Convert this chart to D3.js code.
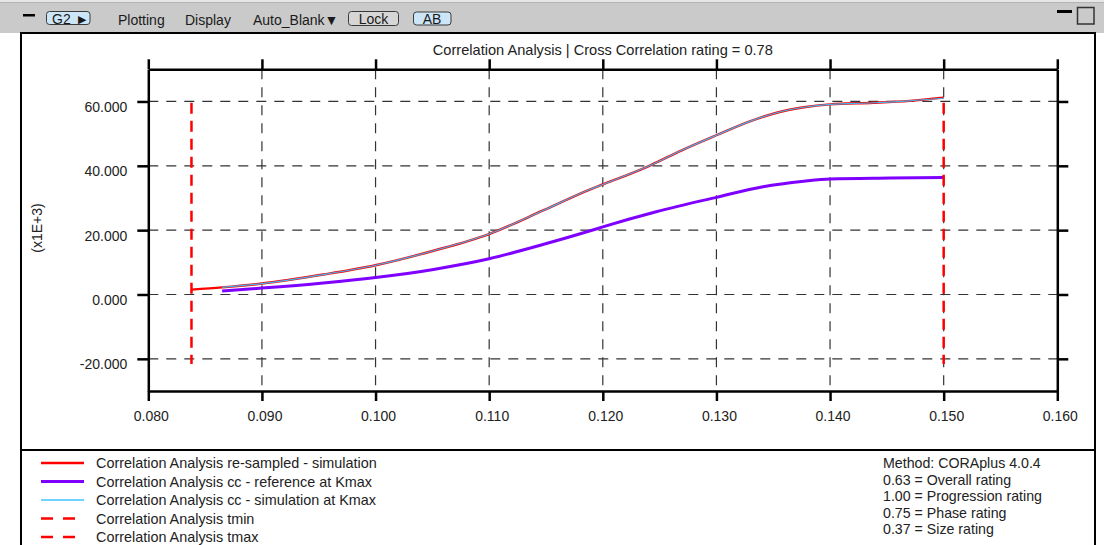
<!DOCTYPE html>
<html>
<head>
<meta charset="utf-8">
<script src="https://cdn.jsdelivr.net/npm/d3@7"></script>
<style>
  html, body { margin: 0; padding: 0; background: #ffffff; }
  svg { display: block; font-family: "Liberation Sans", Arial, sans-serif; }
</style>
</head>
<body>
<svg id="chart" width="1104" height="545"></svg>
<script>
// Time axis (s) and curve values (x1E+3)
const simTime = [0.0838, 0.0865, 0.0900, 0.0954, 0.1000, 0.1051, 0.1100, 0.1148, 0.1189, 0.1200,
                 0.1241, 0.1270, 0.1300, 0.1330, 0.1353, 0.1377, 0.1400, 0.1438, 0.1470, 0.1500];
const simResampled = [1.5, 2.2, 3.4, 6.2, 9.1, 13.6, 18.8, 26.2, 32.7, 34.2,
                      40.0, 44.9, 49.5, 53.9, 56.5, 58.2, 59.1, 59.6, 60.2, 61.2];
const ccSimTime = [0.0865, 0.0900, 0.0954, 0.1000, 0.1051, 0.1100, 0.1148, 0.1189, 0.1200,
                   0.1241, 0.1270, 0.1300, 0.1330, 0.1353, 0.1377, 0.1400, 0.1438, 0.1470, 0.1500];
const ccSimValues = [2.2, 3.4, 6.2, 9.1, 13.6, 18.8, 26.2, 32.7, 34.2,
                     40.0, 44.9, 49.5, 53.9, 56.5, 58.2, 59.1, 59.6, 60.2, 61.0];
const ccRefTime = [0.0865, 0.0900, 0.0954, 0.1000, 0.1051, 0.1100, 0.1148, 0.1189, 0.1200,
                   0.1247, 0.1300, 0.1341, 0.1377, 0.1400, 0.1453, 0.1500];
const ccRefValues = [1.1, 2.0, 3.6, 5.3, 7.8, 11.1, 15.6, 19.8, 21.0,
                     25.7, 30.2, 33.5, 35.2, 35.9, 36.2, 36.4];
const tmin = 0.0838;
const tmax = 0.1500;
const tLimitRange = [-21.6, 59.6];

const xTicks = [0.08, 0.09, 0.10, 0.11, 0.12, 0.13, 0.14, 0.15, 0.16];
const yTicks = [-20, 0, 20, 40, 60];

const titleText = "Correlation Analysis | Cross Correlation rating = 0.78";
const yLabel = "(x1E+3)";
const legendLabels = [
  "Correlation Analysis re-sampled - simulation",
  "Correlation Analysis cc - reference at Kmax",
  "Correlation Analysis cc - simulation at Kmax",
  "Correlation Analysis tmin",
  "Correlation Analysis tmax"
];
const ratingLines = [
  "Method: CORAplus 4.0.4",
  "0.63 = Overall rating",
  "1.00 = Progression rating",
  "0.75 = Phase rating",
  "0.37 = Size rating"
];
const toolbarItems = ["Plotting", "Display", "Auto_Blank\u25BC"];

const svg = d3.select("#chart");
const W = 1104, H = 545;

// ---- window chrome ----
svg.append("rect").attr("x", 0).attr("y", 0).attr("width", W).attr("height", 33).attr("fill", "#cacaca");
svg.append("rect").attr("x", 0).attr("y", 0).attr("width", W).attr("height", 2).attr("fill", "#e6e6e6");
svg.append("rect").attr("x", 0).attr("y", 2).attr("width", W).attr("height", 1).attr("fill", "#b4b4b4");

// panel frame
svg.append("rect").attr("x", 21).attr("y", 33).attr("width", 1074).attr("height", 520)
  .attr("fill", "#ffffff").attr("stroke", "#000").attr("stroke-width", 2);

const tb = svg.append("g").attr("font-size", 13.5).attr("fill", "#1a1a1a");
tb.append("rect").attr("x", 23).attr("y", 14).attr("width", 12).attr("height", 2.5).attr("fill", "#000");
// G2 button
tb.append("rect").attr("x", 46.5).attr("y", 11.5).attr("width", 43.5).attr("height", 13).attr("rx", 3)
  .attr("fill", "#cde6f7").attr("stroke", "#3a3a3a").attr("stroke-width", 1);
tb.append("text").attr("x", 52).attr("y", 23.5).attr("font-size", 14).text("G2");
tb.append("text").attr("x", 78).attr("y", 23).attr("font-size", 10.5).text("\u25B6");
const itemX = [118, 185, 253];
toolbarItems.forEach((t, i) => tb.append("text").attr("x", itemX[i]).attr("y", 25).attr("font-size", 14).text(t));
// Lock button
tb.append("rect").attr("x", 348.5).attr("y", 11.5).attr("width", 50).attr("height", 14).attr("rx", 3)
  .attr("fill", "#d6d6d6").attr("stroke", "#3a3a3a").attr("stroke-width", 1);
tb.append("text").attr("x", 373.5).attr("y", 24).attr("font-size", 14).attr("text-anchor", "middle").text("Lock");
// AB button
tb.append("rect").attr("x", 413.5).attr("y", 12).attr("width", 37.5).attr("height", 13).attr("rx", 3)
  .attr("fill", "#cde6f7").attr("stroke", "#3a3a3a").attr("stroke-width", 1);
tb.append("text").attr("x", 432).attr("y", 24).attr("font-size", 14).attr("text-anchor", "middle").text("AB");
// minimise / maximise
tb.append("rect").attr("x", 1057).attr("y", 10).attr("width", 15).attr("height", 3).attr("fill", "#000");
tb.append("rect").attr("x", 1077.5).attr("y", 7.5).attr("width", 16.5).attr("height", 16.5)
  .attr("fill", "#cacaca").attr("stroke", "#333").attr("stroke-width", 1.5);

// ---- plot ----
const x = d3.scaleLinear().domain([0.08, 0.16]).range([148.3, 1057.3]);
const y = d3.scaleLinear().domain([-30, 70]).range([391, 69.3]);
const plotLeft = x.range()[0], plotRight = x.range()[1];
const plotTop = y.range()[1], plotBottom = y.range()[0];

// dashed grid
const grid = svg.append("g").attr("stroke", "#333").attr("stroke-width", 1.2).attr("stroke-dasharray", "10,8");
grid.selectAll("line.h").data(yTicks).join("line").attr("class", "h")
  .attr("x1", plotLeft).attr("x2", plotRight).attr("y1", d => y(d)).attr("y2", d => y(d));
grid.selectAll("line.v").data(xTicks.slice(1, -1)).join("line").attr("class", "v")
  .attr("x1", d => x(d)).attr("x2", d => x(d)).attr("y1", plotTop).attr("y2", plotBottom);

// curves
const line = d3.line().x(d => x(d[0])).y(d => y(d[1])).curve(d3.curveMonotoneX);
const zip = (a, b) => a.map((v, i) => [v, b[i]]);

svg.append("path").datum(zip(simTime, simResampled)).attr("d", line)
  .attr("fill", "none").attr("stroke", "#ff0000").attr("stroke-width", 2.4);
svg.append("path").datum(zip(ccRefTime, ccRefValues)).attr("d", line)
  .attr("fill", "none").attr("stroke", "#7f00ff").attr("stroke-width", 3);
svg.append("path").datum(zip(ccSimTime, ccSimValues)).attr("d", line)
  .attr("fill", "none").attr("stroke", "#3fb4f0").attr("stroke-width", 1.2);

// tmin / tmax markers
svg.selectAll("line.tlim").data([tmin, tmax]).join("line").attr("class", "tlim")
  .attr("x1", d => x(d)).attr("x2", d => x(d))
  .attr("y1", y(tLimitRange[1])).attr("y2", y(tLimitRange[0]))
  .attr("stroke", "#ff0000").attr("stroke-width", 2.5).attr("stroke-dasharray", "11,7");

// axes (boxed frame)
const fmt3 = d => d.toFixed(3);
const styleAxis = g => {
  g.select(".domain").attr("stroke", "#000").attr("stroke-width", 2.5);
  g.selectAll(".tick line").attr("stroke", "#000").attr("stroke-width", 2.5);
  g.selectAll(".tick text").attr("fill", "#222").attr("font-size", 14)
    .attr("font-family", "Liberation Sans, Arial, sans-serif");
};
svg.append("g").attr("transform", `translate(${plotLeft},0)`)
  .call(d3.axisLeft(y).tickValues(yTicks).tickSize(11).tickSizeOuter(0).tickPadding(10).tickFormat(fmt3))
  .call(styleAxis)
  .call(g => g.selectAll(".tick text").attr("dy", "0.71em"));
svg.append("g").attr("transform", `translate(${plotRight},0)`)
  .call(d3.axisRight(y).tickValues(yTicks).tickSize(11).tickSizeOuter(0).tickFormat(""))
  .call(styleAxis);
svg.append("g").attr("transform", `translate(0,${plotBottom})`)
  .call(d3.axisBottom(x).tickValues(xTicks).tickSize(10).tickSizeOuter(0).tickPadding(10).tickFormat(fmt3))
  .call(styleAxis)
  .call(g => g.selectAll(".tick text").attr("dx", 2.5));
svg.append("g").attr("transform", `translate(0,${plotTop})`)
  .call(d3.axisTop(x).tickValues(xTicks).tickSize(10).tickSizeOuter(0).tickFormat(""))
  .call(styleAxis);

// title and y label
svg.append("text").attr("x", (plotLeft + plotRight) / 2).attr("y", 54.5).attr("text-anchor", "middle")
  .attr("font-size", 14.6).attr("fill", "#222").text(titleText);
svg.append("text").attr("transform", "translate(42,228) rotate(-90)").attr("text-anchor", "middle")
  .attr("font-size", 14).attr("fill", "#222").text(yLabel);

// ---- legend ----
svg.append("line").attr("x1", 21).attr("x2", 1095).attr("y1", 450).attr("y2", 450)
  .attr("stroke", "#000").attr("stroke-width", 2);
const legendStyles = [
  { color: "#ff0000", width: 2.4, dash: null },
  { color: "#7f00ff", width: 3, dash: null },
  { color: "#3fc4ff", width: 1.4, dash: null },
  { color: "#ff0000", width: 2.5, dash: "12,10" },
  { color: "#ff0000", width: 2.5, dash: "12,10" }
];
const legendY = d3.scalePoint().domain(d3.range(legendLabels.length)).range([463, 537]);
const lg = svg.append("g");
legendLabels.forEach((label, i) => {
  const s = legendStyles[i];
  lg.append("line").attr("x1", 41).attr("x2", 84).attr("y1", legendY(i)).attr("y2", legendY(i))
    .attr("stroke", s.color).attr("stroke-width", s.width).attr("stroke-dasharray", s.dash);
  lg.append("text").attr("x", 96).attr("y", legendY(i) + 5).attr("font-size", 14.4).attr("fill", "#222").text(label);
});
const ratingY = d3.scalePoint().domain(d3.range(ratingLines.length)).range([468, 534]);
ratingLines.forEach((t, i) => {
  svg.append("text").attr("x", 883).attr("y", ratingY(i)).attr("font-size", 14.2).attr("fill", "#222").text(t);
});
</script>
</body>
</html>
